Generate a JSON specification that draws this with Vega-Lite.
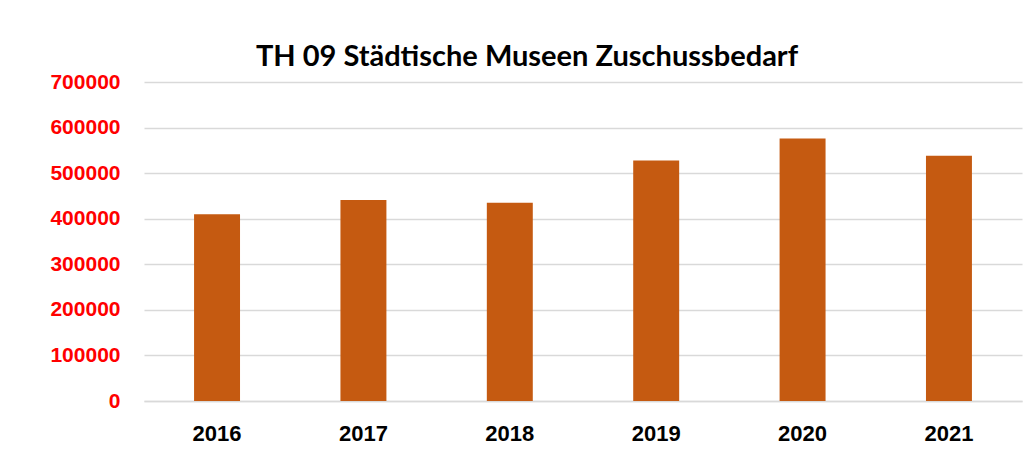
{
  "$schema": "https://vega.github.io/schema/vega-lite/v6.json",
  "width": 878,
  "height": 319,
  "autosize": {"type": "none"},
  "padding": {"left": 144, "top": 82, "right": 10, "bottom": 70},
  "background": "white",
  "data": {
    "values": [
      {"year": "2016", "value": 410000},
      {"year": "2017", "value": 441000},
      {"year": "2018", "value": 435000},
      {"year": "2019", "value": 528000},
      {"year": "2020", "value": 576000},
      {"year": "2021", "value": 538000}
    ]
  },
  "title": {
    "text": "TH 09 Städtische Museen Zuschussbedarf",
    "anchor": "middle",
    "frame": "group",
    "dx": -56,
    "dy": 39,
    "offset": 15,
    "baseline": "alphabetic",
    "font": "Lato",
    "fontSize": 29,
    "fontWeight": "bold",
    "color": "#000000"
  },
  "mark": {"type": "bar", "color": "#C55A11"},
  "encoding": {
    "x": {
      "field": "year",
      "type": "nominal",
      "scale": {"paddingInner": 0.686, "paddingOuter": 0.342},
      "axis": {
        "title": null,
        "labelAngle": 0,
        "ticks": false,
        "domain": true,
        "domainColor": "#D9D9D9",
        "domainWidth": 1.5,
        "labelFont": "Liberation Sans",
        "labelFontSize": 22,
        "labelFontWeight": "bold",
        "labelColor": "#000000",
        "labelBaseline": "alphabetic",
        "labelPadding": 39
      }
    },
    "y": {
      "field": "value",
      "type": "quantitative",
      "scale": {"domain": [0, 700000], "nice": false},
      "axis": {
        "title": null,
        "values": [0, 100000, 200000, 300000, 400000, 500000, 600000, 700000],
        "format": "d",
        "ticks": false,
        "domain": false,
        "grid": true,
        "gridColor": "#D9D9D9",
        "gridWidth": 1.5,
        "labelFont": "Liberation Sans",
        "labelFontSize": 21,
        "labelFontWeight": "bold",
        "labelColor": "#FF0000",
        "labelPadding": 24,
        "labelBaseline": "middle"
      }
    }
  },
  "config": {"view": {"stroke": null}}
}
